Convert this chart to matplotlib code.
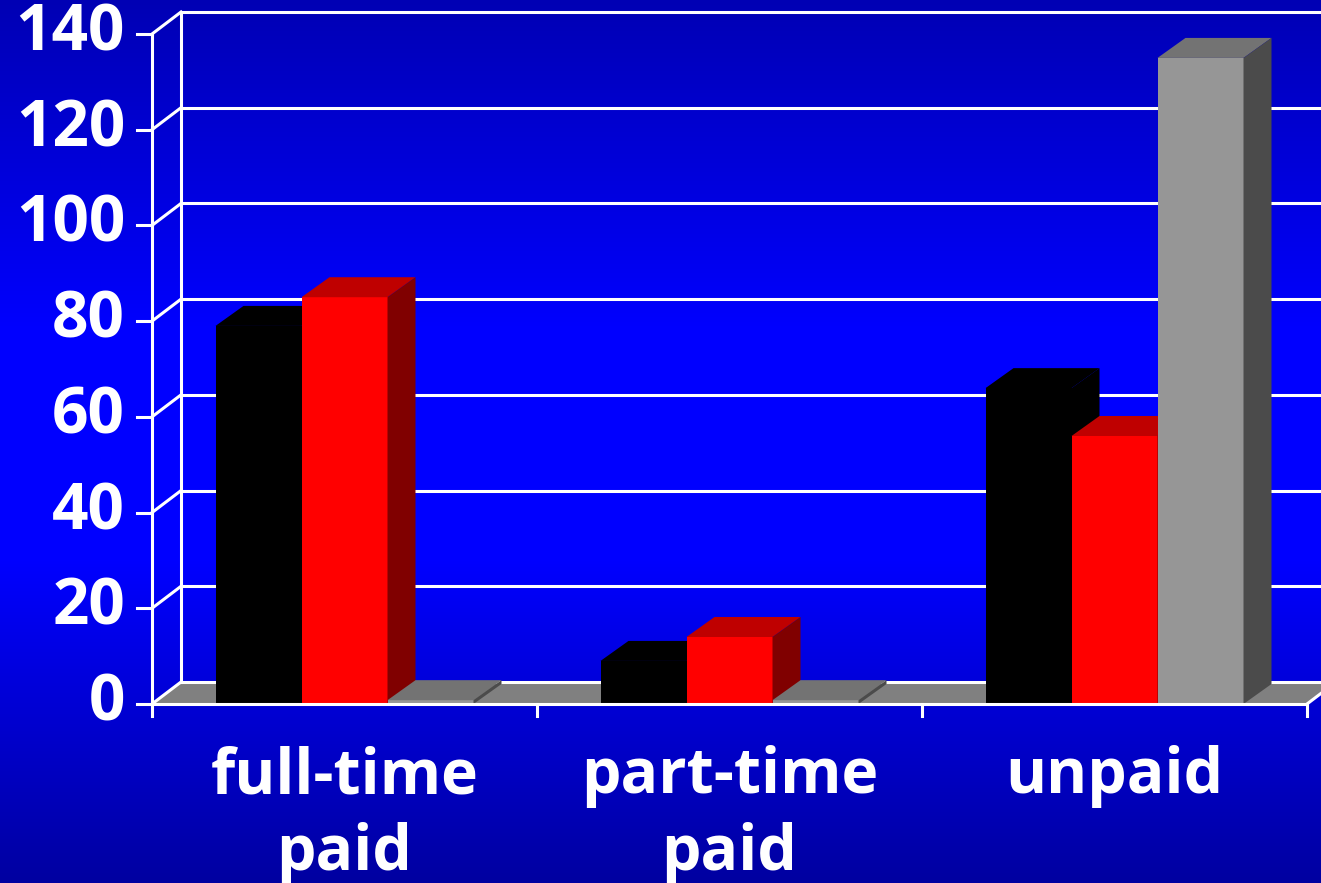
import numpy as np
import matplotlib.pyplot as plt
from matplotlib.patches import Polygon, Rectangle

# data
categories = ['full-time\npaid', 'part-time\npaid', 'unpaid']
black_vals = [79, 9, 66]
red_vals = [85, 14, 56]
gray_vals = [0, 0, 135]
yticks = [0, 20, 40, 60, 80, 100, 120, 140]

plt.rcParams['font.family'] = ['Open Sans', 'DejaVu Sans']

W, H = 1321, 883
fig = plt.figure(figsize=(W / 100, H / 100), dpi=100)
ax = fig.add_axes([0, 0, 1, 1])

# pixel scale of the plot
pxx = 385.0            # px per category
pxy = 670.0 / 140.0    # px per value unit
x0 = -0.5 - 152 / pxx
x1 = -0.5 + (W - 152) / pxx
y0 = -(H - 704) / pxy
y1 = 704 / pxy
ax.set_xlim(x0, x1)
ax.set_ylim(y0, y1)
ax.axis('off')

# background gradient
rows = np.arange(H)
blue = np.interp(rows, [0, 330, 560, H], [180, 255, 255, 160]) / 255.0
grad = np.zeros((H, 1, 3))
grad[:, 0, 2] = blue
ax.imshow(grad, extent=(x0, x1, y0, y1), aspect='auto', origin='upper', zorder=0)

# wall / floor depth
wdx, wdy = 29 / pxx, 22 / pxy
bdx, bdy = 28 / pxx, 20 / pxy
lw = 2.2
left, right = -0.5, 2.5

# floor
ax.add_patch(Polygon([(left, 0), (right, 0), (right + wdx, wdy), (left + wdx, wdy)],
                     closed=True, facecolor='#808080', edgecolor='none', zorder=1))

# gridlines on back wall and side wall
for v in yticks:
    ax.plot([left + wdx, x1 + 1], [v + wdy, v + wdy], color='white', lw=lw, zorder=2)
    ax.plot([left, left + wdx], [v, v + wdy], color='white', lw=lw, zorder=2)
    ax.plot([left - 15 / pxx, left], [v, v], color='white', lw=lw, zorder=2)
    ax.text(left - 27 / pxx, v, str(v), ha='right', va='center', color='white',
            fontsize=46, fontweight='bold', zorder=5)
ax.plot([left + wdx, left + wdx], [wdy, 140 + wdy], color='white', lw=lw, zorder=2)
ax.plot([left, left], [0, 140], color='white', lw=lw, zorder=2)
ax.plot([right, right + wdx], [0, wdy], color='white', lw=lw, zorder=2)


def bar3d(xl, w, h, front, top, side, z):
    hh = max(h, 0.8)
    ax.add_patch(Rectangle((xl, 0), w, hh, facecolor=front, edgecolor='none', zorder=z))
    ax.add_patch(Polygon([(xl, hh), (xl + w, hh), (xl + w + bdx, hh + bdy), (xl + bdx, hh + bdy)],
                         closed=True, facecolor=top, edgecolor='none', zorder=z))
    ax.add_patch(Polygon([(xl + w, 0), (xl + w + bdx, bdy), (xl + w + bdx, hh + bdy), (xl + w, hh)],
                         closed=True, facecolor=side, edgecolor='none', zorder=z))


series = [
    (black_vals, '#000000', '#000000', '#000000'),
    (red_vals, '#ff0000', '#bf0000', '#800000'),
    (gray_vals, '#969696', '#737373', '#4b4b4b'),
]
bw = 86 / pxx
z = 3
for i in range(len(categories)):
    for j, (vals, fc, tc, sc) in enumerate(series):
        xl = i - 1.5 * bw + j * bw
        bar3d(xl, bw, vals[i], fc, tc, sc, z)
        z += 0.01

# front baseline and category ticks
ax.plot([left, right], [0, 0], color='white', lw=lw, zorder=4)
for t in [-0.5, 0.5, 1.5, 2.5]:
    ax.plot([t, t], [0, -12 / pxy], color='white', lw=lw, zorder=4)

# category labels
for i, lab in enumerate(categories):
    for k, line in enumerate(lab.split('\n')):
        ax.text(i, -(793 - 704 + k * 77) / pxy, line, ha='center', va='baseline',
                color='white', fontsize=45, fontweight='bold', zorder=5)

fig.savefig('out.png', dpi=100)
